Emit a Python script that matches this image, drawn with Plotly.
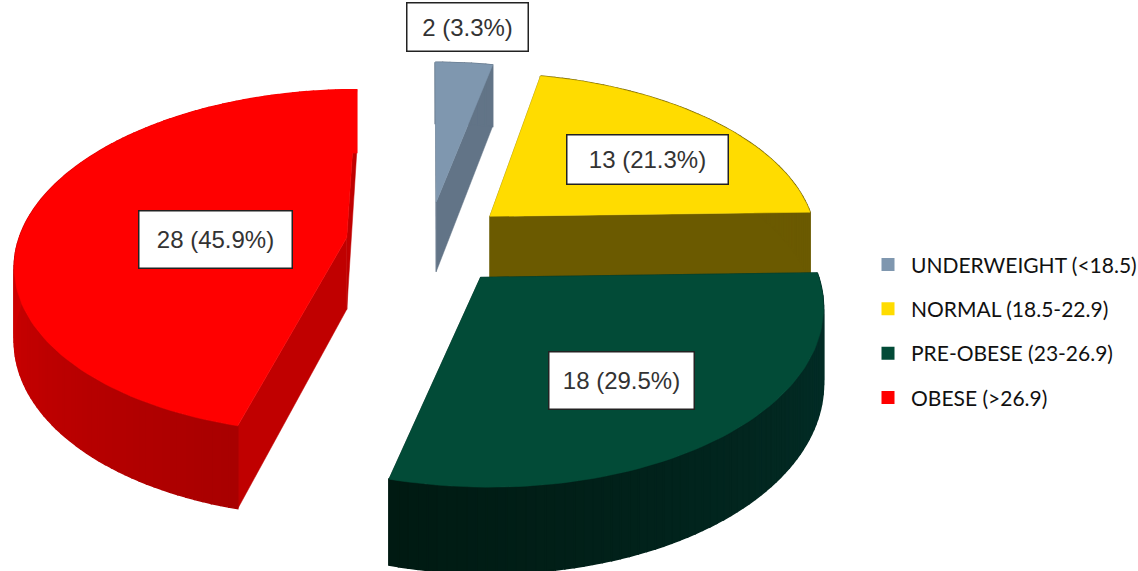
import math
import plotly.graph_objects as go

categories = ["UNDERWEIGHT (<18.5)", "NORMAL (18.5-22.9)", "PRE-OBESE (23-26.9)", "OBESE (>26.9)"]
counts = [2, 13, 18, 28]
percents = ["3.3%", "21.3%", "29.5%", "45.9%"]
top_colors = ["#7F97AF", "#FFDC00", "#024B37", "#FF0000"]
cut_colors = ["#627487", "#6B5A00", "#03281F", "#C00000"]
side_from = ["#627487", "#6B5A00", "#03302A", "#FF0000"]
side_to = ["#627487", "#6B5A00", "#001A12", "#A80000"]
label_boxes = [(467, 27, 120, 47), (647.5, 159.5, 160, 48), (621.5, 380.5, 144, 56), (215.5, 239.5, 152, 56)]
legend_gap = 14

# projection of the tilted, exploded pie
CX, CY = 428, 243
A, B, P = 329, 170, 0.14
H = 72
EXPLODE = 0.25


def project(x, y, drop=0.0):
    w = 1 - P * y
    return CX + A * x / w, CY + (B * y + drop) / w


def hex_mix(c1, c2, t):
    a = [int(c1[i:i + 2], 16) for i in (1, 3, 5)]
    b = [int(c2[i:i + 2], 16) for i in (1, 3, 5)]
    return "rgb(%d,%d,%d)" % tuple(round(a[i] + (b[i] - a[i]) * t) for i in range(3))


fig = go.Figure()


def poly(points, color, lw=0.5):
    xs = [p[0] for p in points] + [points[0][0]]
    ys = [p[1] for p in points] + [points[0][1]]
    fig.add_trace(go.Scatter(x=xs, y=ys, mode="lines", fill="toself", fillcolor=color,
                             line=dict(color=color, width=lw), showlegend=False, hoverinfo="skip"))


total = sum(counts)
start = 0.0
wedges = []
for i, v in enumerate(counts):
    sweep = v / total * 2 * math.pi
    wedges.append((i, start, start + sweep))
    start += sweep

for i, a0, a1 in wedges:
    mid = (a0 + a1) / 2
    ox, oy = EXPLODE * math.sin(mid), -EXPLODE * math.cos(mid)
    n = max(6, int((a1 - a0) * 40))
    angles = [a0 + (a1 - a0) * k / n for k in range(n + 1)]
    rim = [(ox + math.sin(t), oy - math.cos(t)) for t in angles]
    # radial cut faces
    for (rx, ry) in (rim[0], rim[-1]):
        poly([project(ox, oy), project(rx, ry), project(rx, ry, H), project(ox, oy, H)], cut_colors[i])
    # curved outer wall, shaded strip by strip
    for k in range(n):
        t = k / max(1, n - 1)
        if i == 3:
            t = 1 - t
        colour = hex_mix(side_from[i], side_to[i], t)
        p, q = rim[k], rim[k + 1]
        poly([project(*p), project(*q), project(*q, H), project(*p, H)], colour, 1.5)
    poly([project(ox, oy)] + [project(*r) for r in rim], top_colors[i])

for i, name in enumerate(categories):
    fig.add_trace(go.Scatter(x=[None], y=[None], mode="markers", name=name, legendgroup=name,
                             marker=dict(symbol="square", size=13, color=top_colors[i])))
    bx, by, bw, bh = label_boxes[i]
    fig.add_annotation(x=bx, y=by, xref="x", yref="y", showarrow=False,
                       text=f"{counts[i]} ({percents[i]})", width=bw, height=bh,
                       bgcolor="white", bordercolor="#222222", borderwidth=1.5, borderpad=0,
                       font=dict(family="Liberation Sans", size=24, color="#333333"))

fig.update_layout(
    width=1138, height=571, margin=dict(l=0, r=0, t=0, b=0, autoexpand=False),
    paper_bgcolor="white", plot_bgcolor="white",
    xaxis=dict(visible=False, range=[0, 1138], fixedrange=True),
    yaxis=dict(visible=False, range=[571, 0], fixedrange=True),
    legend=dict(x=(1138 - 273) / 1138, y=0.572, yanchor="top", xanchor="left",
                itemwidth=36, tracegroupgap=legend_gap, traceorder="grouped",
                font=dict(family="Lato", size=21, color="#111111"), bgcolor="rgba(0,0,0,0)"),
)
fig.write_html("out.html", post_script="document.body.style.margin='0';",
               config=dict(displayModeBar=False))
